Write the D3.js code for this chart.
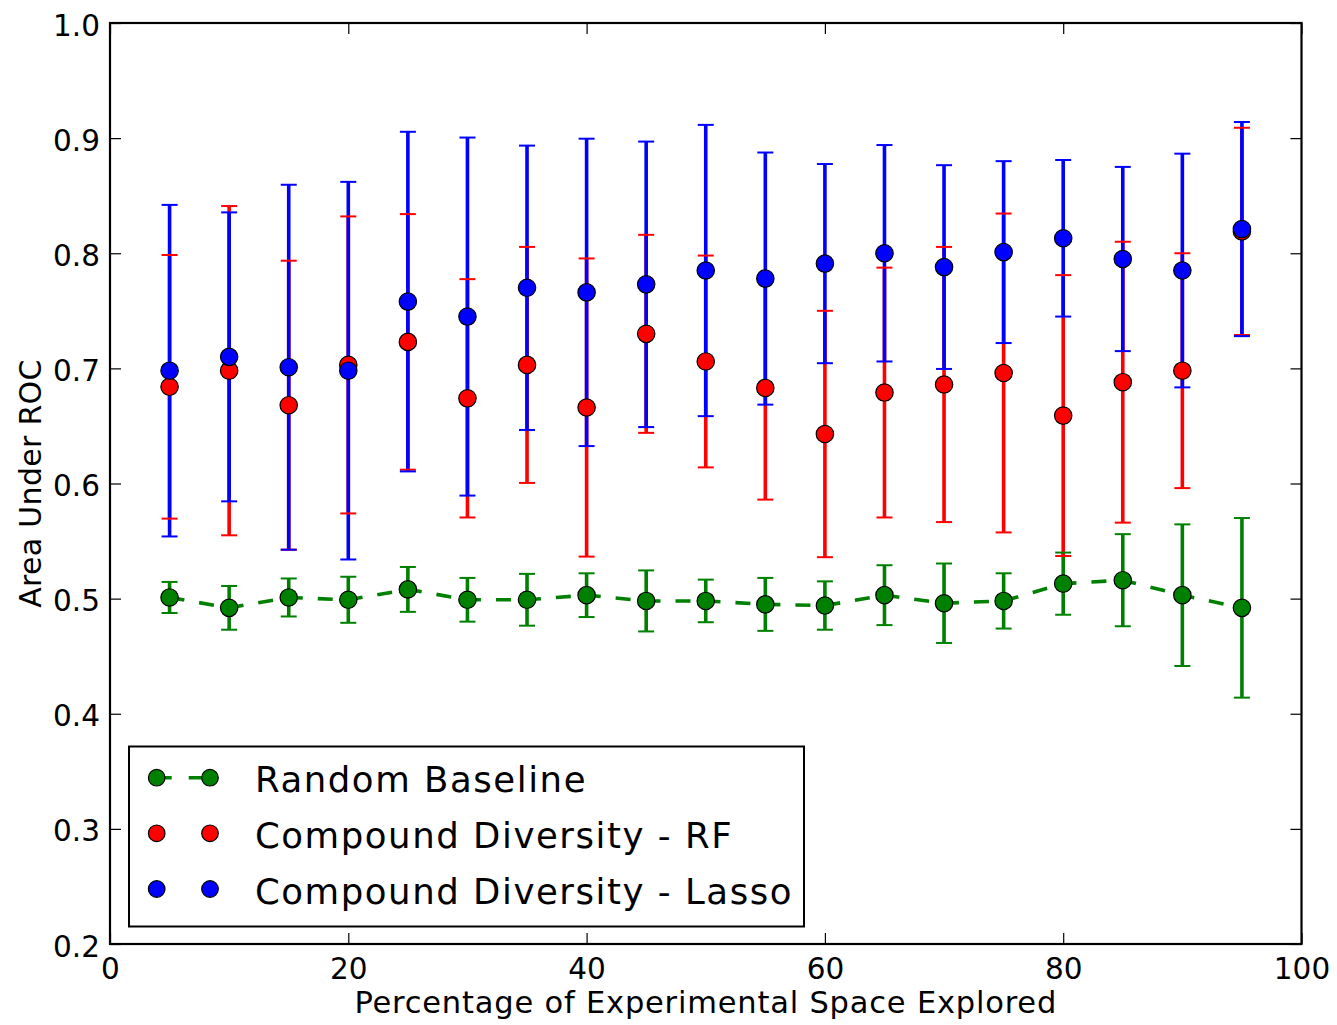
<!DOCTYPE html>
<html>
<head>
<meta charset="utf-8">
<script src="https://cdn.jsdelivr.net/npm/d3@7"></script>
<style>
  html, body { margin: 0; padding: 0; background: #fff; }
  svg { display: block; font-family: "DejaVu Sans", sans-serif; }
</style>
</head>
<body>
<svg id="chart" width="1337" height="1025"></svg>
<script>
// ---- Data ----
const xValues = [5, 10, 15, 20, 25, 30, 35, 40, 45, 50, 55, 60, 65, 70, 75, 80, 85, 90, 95];

const randomMean = [0.501, 0.492, 0.501, 0.499, 0.508, 0.499, 0.499, 0.503, 0.498, 0.498, 0.495, 0.494, 0.503, 0.496, 0.498, 0.513, 0.516, 0.503, 0.492];
const randomErr  = [0.0135, 0.019, 0.0165, 0.020, 0.0195, 0.019, 0.0225, 0.019, 0.0265, 0.0185, 0.023, 0.021, 0.026, 0.0345, 0.024, 0.027, 0.040, 0.0615, 0.078];

const rfMean = [0.684, 0.698, 0.668, 0.703, 0.723, 0.674, 0.703, 0.666, 0.730, 0.706, 0.683, 0.643, 0.679, 0.686, 0.696, 0.659, 0.688, 0.698, 0.819];
const rfErr  = [0.1145, 0.143, 0.1255, 0.129, 0.111, 0.1035, 0.1025, 0.1295, 0.086, 0.092, 0.097, 0.107, 0.1085, 0.1195, 0.1385, 0.122, 0.122, 0.102, 0.090];

const lassoMean = [0.698, 0.710, 0.701, 0.698, 0.758, 0.745, 0.770, 0.766, 0.773, 0.785, 0.778, 0.791, 0.800, 0.788, 0.801, 0.813, 0.795, 0.785, 0.821];
const lassoErr  = [0.144, 0.1255, 0.1585, 0.164, 0.1475, 0.1555, 0.1235, 0.1335, 0.124, 0.1265, 0.1095, 0.0865, 0.094, 0.0885, 0.079, 0.068, 0.080, 0.1015, 0.093];

const seriesNames = ["Random Baseline", "Compound Diversity - RF", "Compound Diversity - Lasso"];
const seriesColors = ["#008000", "#ff0000", "#0000ff"];

const xTicks = [0, 20, 40, 60, 80, 100];
const yTicks = [0.2, 0.3, 0.4, 0.5, 0.6, 0.7, 0.8, 0.9, 1.0];

const xTitle = "Percentage of Experimental Space Explored";
const yTitle = "Area Under ROC";

// ---- Layout ----
const L = 110, R = 1301.5, T = 23, B = 944;
const svg = d3.select("#chart");

const x = d3.scaleLinear().domain([0, 100]).range([L, R]);
const y = d3.scaleLinear().domain([0.2, 1.0]).range([B, T]);

const series = [
  { name: seriesNames[0], color: seriesColors[0], mean: randomMean, err: randomErr, dashed: true },
  { name: seriesNames[1], color: seriesColors[1], mean: rfMean, err: rfErr, dashed: false },
  { name: seriesNames[2], color: seriesColors[2], mean: lassoMean, err: lassoErr, dashed: false }
];
series.forEach(s => {
  s.points = xValues.map((xv, i) => ({ x: xv, m: s.mean[i], e: s.err[i] }));
});

// ---- Axes (ticks inside on all four sides) ----
const tickLen = 11;
const fmtY = d3.format(".1f");

const gB = svg.append("g").attr("transform", `translate(0,${B})`)
  .call(d3.axisBottom(x).tickValues(xTicks).tickSizeInner(-tickLen).tickSizeOuter(0).tickPadding(14).tickFormat(d3.format("d")));
const gT = svg.append("g").attr("transform", `translate(0,${T})`)
  .call(d3.axisTop(x).tickValues(xTicks).tickSizeInner(-tickLen).tickSizeOuter(0).tickFormat(""));
const gL = svg.append("g").attr("transform", `translate(${L},0)`)
  .call(d3.axisLeft(y).tickValues(yTicks).tickSizeInner(-tickLen).tickSizeOuter(0).tickPadding(10).tickFormat(fmtY));
const gR = svg.append("g").attr("transform", `translate(${R},0)`)
  .call(d3.axisRight(y).tickValues(yTicks).tickSizeInner(-tickLen).tickSizeOuter(0).tickFormat(""));

[gB, gT, gL, gR].forEach(g => {
  g.select(".domain").remove();
  g.selectAll(".tick line").attr("stroke", "#000").attr("stroke-width", 1.2);
  g.selectAll(".tick text").attr("fill", "#000").style("font-size", "29.5px").style("font-family", "DejaVu Sans");
});
gL.selectAll(".tick text").attr("dy", "0.41em");

// ---- Error bars ----
const capHalf = 8;
const barLayer = svg.append("g");
series.forEach(s => {
  barLayer.append("g").selectAll("line").data(s.points).join("line")
    .attr("x1", d => x(d.x)).attr("x2", d => x(d.x))
    .attr("y1", d => y(d.m - d.e)).attr("y2", d => y(d.m + d.e))
    .attr("stroke", s.color).attr("stroke-width", 3.6);
});
series.forEach(s => {
  const g = barLayer.append("g");
  ["lo", "hi"].forEach(k => {
    g.append("g").selectAll("line").data(s.points).join("line")
      .attr("x1", d => x(d.x) - capHalf).attr("x2", d => x(d.x) + capHalf)
      .attr("y1", d => y(k === "lo" ? d.m - d.e : d.m + d.e))
      .attr("y2", d => y(k === "lo" ? d.m - d.e : d.m + d.e))
      .attr("stroke", s.color).attr("stroke-width", 2);
  });
});

// ---- Dashed line for random baseline ----
const line = d3.line().x(d => x(d.x)).y(d => y(d.m));
svg.append("path").datum(series[0].points)
  .attr("d", line).attr("fill", "none")
  .attr("stroke", series[0].color).attr("stroke-width", 3.6)
  .attr("stroke-dasharray", "15,15");

// ---- Markers ----
series.forEach(s => {
  svg.append("g").selectAll("circle").data(s.points).join("circle")
    .attr("cx", d => x(d.x)).attr("cy", d => y(d.m)).attr("r", 8.7)
    .attr("fill", s.color).attr("stroke", "#000").attr("stroke-width", 1.2);
});

// ---- Frame ----
svg.append("rect").attr("x", L).attr("y", T).attr("width", R - L).attr("height", B - T)
  .attr("fill", "none").attr("stroke", "#000").attr("stroke-width", 2.2);

// ---- Axis titles ----
svg.append("text").attr("x", (L + R) / 2).attr("y", 1013)
  .attr("text-anchor", "middle").style("font-size", "30.5px").style("letter-spacing", "0.8px")
  .attr("fill", "#000").text(xTitle);
svg.append("text").attr("transform", `translate(41,${(T + B) / 2}) rotate(-90)`)
  .attr("text-anchor", "middle").style("font-size", "30px").style("letter-spacing", "0.3px")
  .attr("fill", "#000").text(yTitle);

// ---- Legend ----
const leg = svg.append("g");
leg.append("rect").attr("x", 129).attr("y", 746.5).attr("width", 675).attr("height", 180)
  .attr("fill", "#fff").attr("stroke", "#000").attr("stroke-width", 2);
const rowY = [777.7, 833.3, 889];
const mx1 = 156.7, mx2 = 210;
series.forEach((s, i) => {
  const g = leg.append("g");
  if (s.dashed) {
    g.append("line").attr("x1", mx1).attr("x2", mx2).attr("y1", rowY[i]).attr("y2", rowY[i])
      .attr("stroke", s.color).attr("stroke-width", 3.6).attr("stroke-dasharray", "15,17");
  }
  [mx1, mx2].forEach(cx => {
    g.append("circle").attr("cx", cx).attr("cy", rowY[i]).attr("r", 8.3)
      .attr("fill", s.color).attr("stroke", "#000").attr("stroke-width", 1.2);
  });
  g.append("text").attr("x", 255).attr("y", rowY[i] + 14.5)
    .style("font-size", "35.5px").style("letter-spacing", "1.55px")
    .attr("fill", "#000").text(s.name);
});
</script>
</body>
</html>
